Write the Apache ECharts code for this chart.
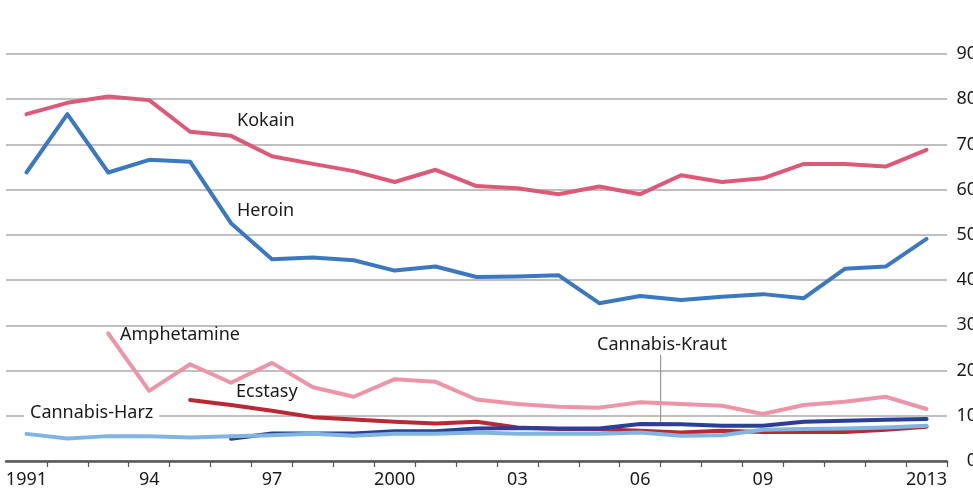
<!DOCTYPE html>
<html>
<head>
<meta charset="utf-8">
<script src="https://cdn.jsdelivr.net/npm/echarts@6/dist/echarts.min.js"></script>
<style>
  html, body { margin: 0; padding: 0; background: #fff; }
  #chart { width: 973px; height: 490px; }
</style>
</head>
<body>
<div id="chart"></div>
<script>
const years = ['1991', '1992', '1993', '1994', '1995', '1996', '1997', '1998', '1999', '2000', '2001',
  '2002', '2003', '2004', '2005', '2006', '2007', '2008', '2009', '2010', '2011', '2012', '2013']
const tickLabels = ['1991', '', '', '94', '', '', '97', '', '', '2000', '', '', '03', '', '', '06', '', '', '09', '', '', '', '2013']

const kokain = [76.7, 79.2, 80.6, 79.8, 72.8, 71.9, 67.4, 65.7, 64.1, 61.7, 64.4, 60.8, 60.3, 59.0, 60.7, 59.0, 63.2, 61.7, 62.5, 65.7, 65.7, 65.1, 68.8]
const heroin = [63.8, 76.7, 63.8, 66.6, 66.2, 52.6, 44.6, 45.0, 44.4, 42.1, 43.0, 40.7, 40.8, 41.1, 34.9, 36.5, 35.6, 36.3, 36.9, 36.0, 42.5, 43.0, 49.1]
const amphetamine = [null, null, 28.2, 15.5, 21.4, 17.3, 21.7, 16.3, 14.2, 18.1, 17.5, 13.6, 12.6, 12.0, 11.8, 13.0, 12.6, 12.2, 10.4, 12.4, 13.1, 14.2, 11.5]
const ecstasy = [null, null, null, null, 13.5, 12.4, 11.1, 9.7, 9.2, 8.7, 8.3, 8.7, 7.4, 7.1, 7.0, 6.7, 6.3, 6.7, 6.4, 6.4, 6.4, 6.9, 7.6]
const cannabisKraut = [null, null, null, null, null, 4.9, 6.1, 6.1, 6.1, 6.6, 6.6, 7.2, 7.3, 7.2, 7.2, 8.2, 8.1, 7.8, 7.8, 8.7, 8.9, 9.1, 9.3]
const cannabisHarz = [6.0, 5.0, 5.5, 5.5, 5.2, 5.5, 5.7, 6.0, 5.6, 6.0, 6.0, 6.3, 6.0, 6.1, 6.0, 6.3, 5.6, 5.7, 6.9, 7.1, 7.2, 7.4, 7.8]

const font = '"Noto Sans", sans-serif'
const textColor = '#1a1a1a'

const line = (name, data, color) => ({
  name: name,
  type: 'line',
  data: data,
  symbol: 'none',
  connectNulls: false,
  lineStyle: { color: color, width: 4, cap: 'round', join: 'round' },
  itemStyle: { color: color },
  silent: true,
  animation: false,
})

const label = (text, left, top, bg) => ({
  type: 'text',
  left: left,
  top: top,
  z: 100,
  style: {
    text: text,
    fill: textColor,
    font: '18px ' + font,
    backgroundColor: bg || 'transparent',
    padding: bg ? [0, 6, 0, 6] : 0,
  },
})

const chart = echarts.init(document.getElementById('chart'))
const option = {
  animation: false,
  backgroundColor: '#fff',
  grid: { left: 6, right: 26, top: 54, bottom: 29, outerBoundsMode: 'none', containLabel: false },
  xAxis: {
    type: 'category',
    data: years,
    boundaryGap: true,
    axisLine: { lineStyle: { color: '#555', width: 2.5 } },
    // no tick on the left edge of the axis
    axisTick: { show: true, interval: (index) => index !== 0, length: 6, lineStyle: { color: '#555', width: 1.2 } },
    axisLabel: {
      interval: 0,
      margin: 10,
      color: textColor,
      fontFamily: font,
      fontSize: 18,
      formatter: (value, index) => tickLabels[index],
    },
    splitLine: { show: false },
  },
  yAxis: {
    type: 'value',
    position: 'right',
    min: 0,
    max: 90,
    interval: 10,
    axisLine: { show: false },
    axisTick: { show: false },
    axisLabel: { margin: 30, align: 'right', color: textColor, fontFamily: font, fontSize: 18 },
    splitLine: { lineStyle: { color: '#aaa', width: 1.5 } },
  },
  series: [
    line('Kokain', kokain, '#dc5a78'),
    line('Heroin', heroin, '#3b78c0'),
    line('Amphetamine', amphetamine, '#eb95a6'),
    line('Ecstasy', ecstasy, '#b92834'),
    line('Cannabis-Kraut', cannabisKraut, '#2b3f97'),
    line('Cannabis-Harz', cannabisHarz, '#80b4e3'),
  ],
}
chart.setOption(option)

// annotations: leader line for Cannabis-Kraut sits on the 2006/2007 boundary
const p06 = chart.convertToPixel({ gridIndex: 0 }, ['2006', 8.2])
const p07 = chart.convertToPixel({ gridIndex: 0 }, ['2007', 8.1])
const leaderX = (p06[0] + p07[0]) / 2
const leaderTop = chart.convertToPixel({ gridIndex: 0 }, ['2006', 23.5])[1]

chart.setOption({
  graphic: [
    label('Kokain', 237, 112),
    label('Heroin', 237, 202),
    label('Amphetamine', 120, 326),
    label('Ecstasy', 236, 383),
    label('Cannabis-Harz', 24, 404, '#fff'),
    label('Cannabis-Kraut', 597, 336),
    {
      type: 'line',
      z: 1,
      shape: { x1: leaderX, y1: leaderTop, x2: leaderX, y2: (p06[1] + p07[1]) / 2 },
      style: { stroke: '#999', lineWidth: 1.2 },
    },
  ],
})
</script>
</body>
</html>
